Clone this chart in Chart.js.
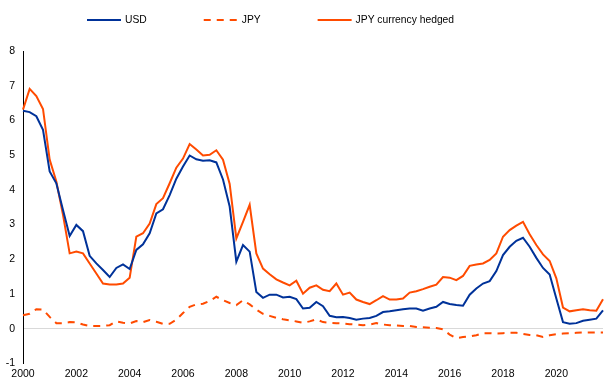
<!DOCTYPE html>
<html>
<head>
<meta charset="utf-8">
<script src="https://cdn.jsdelivr.net/npm/chart.js@4/dist/chart.umd.min.js"></script>
<style>
  html, body { margin: 0; padding: 0; background: #fff; }
  #wrap { width: 612px; height: 389px; }
</style>
</head>
<body>
<div id="wrap"><canvas id="chart"></canvas></div>
<script>
// quarterly observations, 2000Q1 - 2021Q4
const years = [2000, 2001, 2002, 2003, 2004, 2005, 2006, 2007, 2008, 2009, 2010,
    2011, 2012, 2013, 2014, 2015, 2016, 2017, 2018, 2019, 2020, 2021];
const quarters = [];
years.forEach(function (y) {
    ['Q1', 'Q2', 'Q3', 'Q4'].forEach(function (q) { quarters.push(y + q); });
});

const xTickLabels = ['2000', '2002', '2004', '2006', '2008', '2010', '2012', '2014', '2016', '2018', '2020'];

const usd = [
    6.28, 6.24, 6.12, 5.73, 4.53, 4.19, 3.42, 2.67, 2.99, 2.81, 2.10, 1.88,
    1.69, 1.49, 1.75, 1.85, 1.72, 2.27, 2.43, 2.75, 3.32, 3.44, 3.85, 4.32,
    4.67, 4.99, 4.88, 4.84, 4.85, 4.79, 4.30, 3.52, 1.93, 2.41, 2.22, 1.06,
    0.89, 0.98, 0.98, 0.90, 0.92, 0.85, 0.58, 0.60, 0.77, 0.65, 0.37, 0.33,
    0.34, 0.31, 0.26, 0.29, 0.31, 0.37, 0.48, 0.50, 0.53, 0.56, 0.58, 0.58,
    0.52, 0.58, 0.63, 0.77, 0.71, 0.68, 0.66, 0.98, 1.16, 1.30, 1.37, 1.66,
    2.12, 2.36, 2.53, 2.62, 2.36, 2.04, 1.75, 1.56, 0.87, 0.19, 0.14, 0.16,
    0.23, 0.26, 0.29, 0.53
];

const jpy = [
    0.39, 0.43, 0.56, 0.55, 0.34, 0.16, 0.16, 0.19, 0.18, 0.12, 0.08, 0.08,
    0.08, 0.10, 0.21, 0.17, 0.15, 0.22, 0.19, 0.25, 0.20, 0.14, 0.14, 0.26,
    0.45, 0.63, 0.70, 0.72, 0.80, 0.92, 0.82, 0.74, 0.68, 0.82, 0.70, 0.55,
    0.43, 0.37, 0.31, 0.27, 0.24, 0.21, 0.17, 0.21, 0.27, 0.19, 0.17, 0.16,
    0.15, 0.13, 0.12, 0.10, 0.12, 0.16, 0.12, 0.10, 0.09, 0.08, 0.08, 0.05,
    0.04, 0.03, 0.02, -0.02, -0.17, -0.27, -0.24, -0.22, -0.19, -0.13, -0.13, -0.14,
    -0.13, -0.12, -0.12, -0.15, -0.18, -0.19, -0.24, -0.19, -0.16, -0.14, -0.13, -0.12,
    -0.11, -0.11, -0.11, -0.11
];

const jpyHedged = [
    6.31, 6.91, 6.70, 6.33, 4.87, 4.24, 3.28, 2.17, 2.22, 2.17, 1.88, 1.59,
    1.30, 1.27, 1.27, 1.30, 1.47, 2.65, 2.75, 3.03, 3.59, 3.76, 4.19, 4.64,
    4.90, 5.32, 5.16, 4.99, 5.01, 5.14, 4.87, 4.17, 2.60, 3.08, 3.57, 2.17,
    1.73, 1.57, 1.42, 1.33, 1.25, 1.38, 1.01, 1.18, 1.25, 1.12, 1.08, 1.30,
    0.98, 1.04, 0.84, 0.77, 0.71, 0.82, 0.94, 0.84, 0.84, 0.87, 1.04, 1.08,
    1.14, 1.21, 1.27, 1.49, 1.47, 1.40, 1.52, 1.81, 1.85, 1.88, 1.98, 2.17,
    2.65, 2.84, 2.97, 3.08, 2.72, 2.41, 2.14, 1.95, 1.45, 0.61, 0.50, 0.53,
    0.56, 0.53, 0.52, 0.85
];

const FONT = '"Liberation Sans", Arial, sans-serif';

// legend drawn as short line samples in one row above the plot
const lineLegend = {
    id: 'lineLegend',
    afterDraw: function (chart) {
        const ctx = chart.ctx;
        let x = 87;
        const y = 20;
        ctx.save();
        ctx.font = '10.3px ' + FONT;
        ctx.textBaseline = 'middle';
        chart.data.datasets.forEach(function (ds) {
            ctx.strokeStyle = ds.borderColor;
            ctx.lineWidth = ds.borderWidth;
            ctx.setLineDash(ds.borderDash || []);
            ctx.beginPath();
            ctx.moveTo(x, y);
            ctx.lineTo(x + 34, y);
            ctx.stroke();
            ctx.setLineDash([]);
            ctx.fillStyle = '#000';
            ctx.fillText(ds.label, x + 38, y);
            x += 38 + ctx.measureText(ds.label).width + 57;
        });
        ctx.restore();
    }
};

const ctx = document.getElementById('chart').getContext('2d');
new Chart(ctx, {
    type: 'line',
    data: {
        labels: quarters,
        datasets: [
            {
                label: 'USD',
                data: usd,
                borderColor: '#003299',
                backgroundColor: '#003299',
                borderWidth: 2,
                pointRadius: 0
            },
            {
                label: 'JPY',
                data: jpy,
                borderColor: '#FF4B00',
                backgroundColor: '#FF4B00',
                borderWidth: 2,
                borderDash: [7, 6],
                pointRadius: 0
            },
            {
                label: 'JPY currency hedged',
                data: jpyHedged,
                borderColor: '#FF4B00',
                backgroundColor: '#FF4B00',
                borderWidth: 2,
                pointRadius: 0
            }
        ]
    },
    options: {
        responsive: true,
        maintainAspectRatio: false,
        animation: false,
        layout: {
            padding: { top: 51, right: 9, bottom: 5, left: 0 }
        },
        plugins: {
            legend: { display: false },
            tooltip: { enabled: false }
        },
        scales: {
            x: {
                offset: false,
                grid: { display: false, drawTicks: false },
                border: { display: false },
                ticks: {
                    autoSkip: false,
                    maxRotation: 0,
                    minRotation: 0,
                    padding: 4,
                    color: '#000',
                    font: { family: FONT, size: 10.5 },
                    callback: function (value) {
                        const q = quarters[value];
                        const year = q.slice(0, 4);
                        if (q.endsWith('Q1') && xTickLabels.indexOf(year) !== -1) return year;
                        return null;
                    }
                }
            },
            y: {
                min: -1,
                max: 8,
                grid: {
                    drawTicks: false,
                    color: function (c) {
                        return c.tick && c.tick.value === 0 ? '#d9d9d9' : 'rgba(0,0,0,0)';
                    }
                },
                border: { display: true, color: '#000', width: 1 },
                ticks: {
                    stepSize: 1,
                    padding: 8,
                    color: '#000',
                    font: { family: FONT, size: 10.5 }
                },
                afterFit: function (scale) {
                    scale.width = 23;
                }
            }
        }
    },
    plugins: [lineLegend]
});
</script>
</body>
</html>
